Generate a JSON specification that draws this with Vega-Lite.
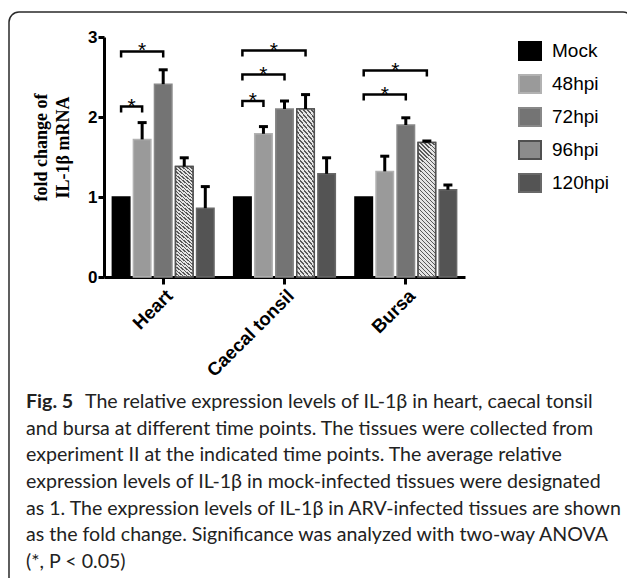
{
  "$schema": "https://vega.github.io/schema/vega-lite/v6.json",
  "width": 624,
  "height": 581,
  "autosize": {"type": "none"},
  "padding": {"left": 9, "top": 12, "right": -6, "bottom": -15},
  "background": "white",
  "config": {
    "view": {"stroke": "#2a2a2a", "strokeWidth": 1.5, "cornerRadius": 10},
    "font": "Liberation Sans"
  },
  "datasets": {
    "bars": [
      {"tissue": "Heart", "time": "Mock", "value": 1.0, "err": null},
      {"tissue": "Heart", "time": "48hpi", "value": 1.72, "err": 1.93},
      {"tissue": "Heart", "time": "72hpi", "value": 2.41, "err": 2.59},
      {"tissue": "Heart", "time": "96hpi", "value": 1.38, "err": 1.49},
      {"tissue": "Heart", "time": "120hpi", "value": 0.86, "err": 1.13},
      {"tissue": "Caecal tonsil", "time": "Mock", "value": 1.0, "err": null},
      {"tissue": "Caecal tonsil", "time": "48hpi", "value": 1.79, "err": 1.88},
      {"tissue": "Caecal tonsil", "time": "72hpi", "value": 2.1, "err": 2.2},
      {"tissue": "Caecal tonsil", "time": "96hpi", "value": 2.1, "err": 2.28},
      {"tissue": "Caecal tonsil", "time": "120hpi", "value": 1.29, "err": 1.49},
      {"tissue": "Bursa", "time": "Mock", "value": 1.0, "err": null},
      {"tissue": "Bursa", "time": "48hpi", "value": 1.32, "err": 1.51},
      {"tissue": "Bursa", "time": "72hpi", "value": 1.9, "err": 1.99},
      {"tissue": "Bursa", "time": "96hpi", "value": 1.68, "err": 1.7},
      {"tissue": "Bursa", "time": "120hpi", "value": 1.09, "err": 1.15}
    ],
    "brackets": [
      {"id": "h48", "tissue": "Heart", "time": "Mock", "seq": 1, "y": 2.055},
      {"id": "h48", "tissue": "Heart", "time": "Mock", "seq": 2, "y": 2.13},
      {"id": "h48", "tissue": "Heart", "time": "48hpi", "seq": 3, "y": 2.13},
      {"id": "h48", "tissue": "Heart", "time": "48hpi", "seq": 4, "y": 2.055},
      {"id": "h72", "tissue": "Heart", "time": "Mock", "seq": 1, "y": 2.745},
      {"id": "h72", "tissue": "Heart", "time": "Mock", "seq": 2, "y": 2.82},
      {"id": "h72", "tissue": "Heart", "time": "72hpi", "seq": 3, "y": 2.82},
      {"id": "h72", "tissue": "Heart", "time": "72hpi", "seq": 4, "y": 2.745},
      {"id": "c48", "tissue": "Caecal tonsil", "time": "Mock", "seq": 1, "y": 2.125},
      {"id": "c48", "tissue": "Caecal tonsil", "time": "Mock", "seq": 2, "y": 2.2},
      {"id": "c48", "tissue": "Caecal tonsil", "time": "48hpi", "seq": 3, "y": 2.2},
      {"id": "c48", "tissue": "Caecal tonsil", "time": "48hpi", "seq": 4, "y": 2.125},
      {"id": "c72", "tissue": "Caecal tonsil", "time": "Mock", "seq": 1, "y": 2.455},
      {"id": "c72", "tissue": "Caecal tonsil", "time": "Mock", "seq": 2, "y": 2.53},
      {"id": "c72", "tissue": "Caecal tonsil", "time": "72hpi", "seq": 3, "y": 2.53},
      {"id": "c72", "tissue": "Caecal tonsil", "time": "72hpi", "seq": 4, "y": 2.455},
      {"id": "c96", "tissue": "Caecal tonsil", "time": "Mock", "seq": 1, "y": 2.755},
      {"id": "c96", "tissue": "Caecal tonsil", "time": "Mock", "seq": 2, "y": 2.83},
      {"id": "c96", "tissue": "Caecal tonsil", "time": "96hpi", "seq": 3, "y": 2.83},
      {"id": "c96", "tissue": "Caecal tonsil", "time": "96hpi", "seq": 4, "y": 2.755},
      {"id": "b72", "tissue": "Bursa", "time": "Mock", "seq": 1, "y": 2.205},
      {"id": "b72", "tissue": "Bursa", "time": "Mock", "seq": 2, "y": 2.28},
      {"id": "b72", "tissue": "Bursa", "time": "72hpi", "seq": 3, "y": 2.28},
      {"id": "b72", "tissue": "Bursa", "time": "72hpi", "seq": 4, "y": 2.205},
      {"id": "b96", "tissue": "Bursa", "time": "Mock", "seq": 1, "y": 2.505},
      {"id": "b96", "tissue": "Bursa", "time": "Mock", "seq": 2, "y": 2.58},
      {"id": "b96", "tissue": "Bursa", "time": "96hpi", "seq": 3, "y": 2.58},
      {"id": "b96", "tissue": "Bursa", "time": "96hpi", "seq": 4, "y": 2.505}
    ],
    "stars": [
      {"tissue": "Heart", "time": "Mock", "half": true, "y": 2.13},
      {"tissue": "Heart", "time": "48hpi", "half": false, "y": 2.82},
      {"tissue": "Caecal tonsil", "time": "Mock", "half": true, "y": 2.2},
      {"tissue": "Caecal tonsil", "time": "48hpi", "half": false, "y": 2.53},
      {"tissue": "Caecal tonsil", "time": "48hpi", "half": true, "y": 2.83},
      {"tissue": "Bursa", "time": "48hpi", "half": false, "y": 2.28},
      {"tissue": "Bursa", "time": "48hpi", "half": true, "y": 2.58}
    ],
    "caption": [
      {"line": 1, "part": "bold", "text": "Fig. 5"},
      {"line": 1, "part": "first", "text": "The relative expression levels of IL-1β in heart, caecal tonsil"},
      {"line": 2, "part": "body", "text": "and bursa at different time points. The tissues were collected from"},
      {"line": 3, "part": "body", "text": "experiment II at the indicated time points. The average relative"},
      {"line": 4, "part": "body", "text": "expression levels of IL-1β in mock-infected tissues were designated"},
      {"line": 5, "part": "body", "text": "as 1. The expression levels of IL-1β in ARV-infected tissues are shown"},
      {"line": 6, "part": "body", "text": "as the fold change. Significance was analyzed with two-way ANOVA"},
      {"line": 7, "part": "body", "text": "(*, P < 0.05)"}
    ]
  },
  "layer": [
    {
      "data": {"name": "bars"},
      "layer": [
        {
          "mark": {"type": "bar", "strokeWidth": 1.5},
          "encoding": {
            "x": {
              "field": "tissue", "type": "nominal",
              "scale": {"domain": ["Heart", "Caecal tonsil", "Bursa"], "range": [95, 456], "paddingInner": 0.134, "paddingOuter": 0.055},
              "axis": {
                "orient": "bottom", "offset": -316, "title": null,
                "domainWidth": 3, "domainColor": "black", "tickWidth": 3, "tickColor": "black", "tickSize": 7,
                "labelAngle": -45, "labelAlign": "right", "labelBaseline": "top", "labelPadding": 2,
                "labelFont": "Liberation Sans", "labelFontWeight": "bold", "labelFontSize": 18.5, "labelColor": "black"
              }
            },
            "xOffset": {
              "field": "time", "type": "nominal",
              "scale": {"domain": ["Mock", "48hpi", "72hpi", "96hpi", "120hpi"], "paddingInner": 0.17, "paddingOuter": 0.08}
            },
            "y": {
              "field": "value", "type": "quantitative",
              "scale": {"domain": [0, 3], "range": [265, 25], "nice": false},
              "axis": {
                "orient": "left", "offset": -95, "values": [0, 1, 2, 3], "format": "d", "grid": false,
                "domainWidth": 3, "domainColor": "black", "tickWidth": 3, "tickColor": "black", "tickSize": 6,
                "labelFont": "Liberation Sans", "labelFontWeight": "bold", "labelFontSize": 17, "labelColor": "black", "labelPadding": 1,
                "title": ["fold change of", "IL-1β mRNA"],
                "titleFont": "Liberation Serif", "titleFontSize": 18, "titleFontWeight": "bold", "titleColor": "black",
                "titleX": -63, "titleY": 135, "titleAngle": -90, "titleAlign": "center", "titleBaseline": "middle", "titleLineHeight": 22
              }
            },
            "color": {
              "field": "time", "type": "nominal",
              "scale": {"domain": ["Mock", "48hpi", "72hpi", "96hpi", "120hpi"], "range": ["#000000", "#9a9a9a", "#747474", "#8c8c8c", "#545454"]},
              "legend": {
                "orient": "none", "legendX": 509, "legendY": 27, "title": null, "padding": 0,
                "symbolType": "M-1,-0.818H1V0.818H-1Z", "symbolSize": 484, "symbolStrokeWidth": 2,
                "labelFont": "Liberation Sans", "labelFontSize": 19, "labelColor": "black", "labelOffset": 10, "rowPadding": 7
              }
            },
            "stroke": {
              "field": "time", "type": "nominal",
              "scale": {"domain": ["Mock", "48hpi", "72hpi", "96hpi", "120hpi"], "range": ["#000000", "#b2b2b2", "#888888", "#505050", "#686868"]}
            }
          }
        },
        {
          "transform": [{"filter": "datum.time === '96hpi'"}],
          "mark": {
            "type": "bar", "stroke": "#505050", "strokeWidth": 1.5,
            "fill": {"gradient": "linear", "x1": 0, "y1": 1, "x2": 0.144, "y2": -0.111, "stops": [
              {"offset": 0, "color": "#585858"}, {"offset": 0.0105, "color": "#585858"}, {"offset": 0.0105, "color": "#e4e4e4"}, {"offset": 0.0263, "color": "#e4e4e4"},
              {"offset": 0.0263, "color": "#585858"}, {"offset": 0.0368, "color": "#585858"}, {"offset": 0.0368, "color": "#e4e4e4"}, {"offset": 0.0526, "color": "#e4e4e4"},
              {"offset": 0.0526, "color": "#585858"}, {"offset": 0.0632, "color": "#585858"}, {"offset": 0.0632, "color": "#e4e4e4"}, {"offset": 0.0789, "color": "#e4e4e4"},
              {"offset": 0.0789, "color": "#585858"}, {"offset": 0.0895, "color": "#585858"}, {"offset": 0.0895, "color": "#e4e4e4"}, {"offset": 0.1053, "color": "#e4e4e4"},
              {"offset": 0.1053, "color": "#585858"}, {"offset": 0.1158, "color": "#585858"}, {"offset": 0.1158, "color": "#e4e4e4"}, {"offset": 0.1316, "color": "#e4e4e4"},
              {"offset": 0.1316, "color": "#585858"}, {"offset": 0.1421, "color": "#585858"}, {"offset": 0.1421, "color": "#e4e4e4"}, {"offset": 0.1579, "color": "#e4e4e4"},
              {"offset": 0.1579, "color": "#585858"}, {"offset": 0.1684, "color": "#585858"}, {"offset": 0.1684, "color": "#e4e4e4"}, {"offset": 0.1842, "color": "#e4e4e4"},
              {"offset": 0.1842, "color": "#585858"}, {"offset": 0.1947, "color": "#585858"}, {"offset": 0.1947, "color": "#e4e4e4"}, {"offset": 0.2105, "color": "#e4e4e4"},
              {"offset": 0.2105, "color": "#585858"}, {"offset": 0.2211, "color": "#585858"}, {"offset": 0.2211, "color": "#e4e4e4"}, {"offset": 0.2368, "color": "#e4e4e4"},
              {"offset": 0.2368, "color": "#585858"}, {"offset": 0.2474, "color": "#585858"}, {"offset": 0.2474, "color": "#e4e4e4"}, {"offset": 0.2632, "color": "#e4e4e4"},
              {"offset": 0.2632, "color": "#585858"}, {"offset": 0.2737, "color": "#585858"}, {"offset": 0.2737, "color": "#e4e4e4"}, {"offset": 0.2895, "color": "#e4e4e4"},
              {"offset": 0.2895, "color": "#585858"}, {"offset": 0.3, "color": "#585858"}, {"offset": 0.3, "color": "#e4e4e4"}, {"offset": 0.3158, "color": "#e4e4e4"},
              {"offset": 0.3158, "color": "#585858"}, {"offset": 0.3263, "color": "#585858"}, {"offset": 0.3263, "color": "#e4e4e4"}, {"offset": 0.3421, "color": "#e4e4e4"},
              {"offset": 0.3421, "color": "#585858"}, {"offset": 0.3526, "color": "#585858"}, {"offset": 0.3526, "color": "#e4e4e4"}, {"offset": 0.3684, "color": "#e4e4e4"},
              {"offset": 0.3684, "color": "#585858"}, {"offset": 0.3789, "color": "#585858"}, {"offset": 0.3789, "color": "#e4e4e4"}, {"offset": 0.3947, "color": "#e4e4e4"},
              {"offset": 0.3947, "color": "#585858"}, {"offset": 0.4053, "color": "#585858"}, {"offset": 0.4053, "color": "#e4e4e4"}, {"offset": 0.4211, "color": "#e4e4e4"},
              {"offset": 0.4211, "color": "#585858"}, {"offset": 0.4316, "color": "#585858"}, {"offset": 0.4316, "color": "#e4e4e4"}, {"offset": 0.4474, "color": "#e4e4e4"},
              {"offset": 0.4474, "color": "#585858"}, {"offset": 0.4579, "color": "#585858"}, {"offset": 0.4579, "color": "#e4e4e4"}, {"offset": 0.4737, "color": "#e4e4e4"},
              {"offset": 0.4737, "color": "#585858"}, {"offset": 0.4842, "color": "#585858"}, {"offset": 0.4842, "color": "#e4e4e4"}, {"offset": 0.5, "color": "#e4e4e4"},
              {"offset": 0.5, "color": "#585858"}, {"offset": 0.5105, "color": "#585858"}, {"offset": 0.5105, "color": "#e4e4e4"}, {"offset": 0.5263, "color": "#e4e4e4"},
              {"offset": 0.5263, "color": "#585858"}, {"offset": 0.5368, "color": "#585858"}, {"offset": 0.5368, "color": "#e4e4e4"}, {"offset": 0.5526, "color": "#e4e4e4"},
              {"offset": 0.5526, "color": "#585858"}, {"offset": 0.5632, "color": "#585858"}, {"offset": 0.5632, "color": "#e4e4e4"}, {"offset": 0.5789, "color": "#e4e4e4"},
              {"offset": 0.5789, "color": "#585858"}, {"offset": 0.5895, "color": "#585858"}, {"offset": 0.5895, "color": "#e4e4e4"}, {"offset": 0.6053, "color": "#e4e4e4"},
              {"offset": 0.6053, "color": "#585858"}, {"offset": 0.6158, "color": "#585858"}, {"offset": 0.6158, "color": "#e4e4e4"}, {"offset": 0.6316, "color": "#e4e4e4"},
              {"offset": 0.6316, "color": "#585858"}, {"offset": 0.6421, "color": "#585858"}, {"offset": 0.6421, "color": "#e4e4e4"}, {"offset": 0.6579, "color": "#e4e4e4"},
              {"offset": 0.6579, "color": "#585858"}, {"offset": 0.6684, "color": "#585858"}, {"offset": 0.6684, "color": "#e4e4e4"}, {"offset": 0.6842, "color": "#e4e4e4"},
              {"offset": 0.6842, "color": "#585858"}, {"offset": 0.6947, "color": "#585858"}, {"offset": 0.6947, "color": "#e4e4e4"}, {"offset": 0.7105, "color": "#e4e4e4"},
              {"offset": 0.7105, "color": "#585858"}, {"offset": 0.7211, "color": "#585858"}, {"offset": 0.7211, "color": "#e4e4e4"}, {"offset": 0.7368, "color": "#e4e4e4"},
              {"offset": 0.7368, "color": "#585858"}, {"offset": 0.7474, "color": "#585858"}, {"offset": 0.7474, "color": "#e4e4e4"}, {"offset": 0.7632, "color": "#e4e4e4"},
              {"offset": 0.7632, "color": "#585858"}, {"offset": 0.7737, "color": "#585858"}, {"offset": 0.7737, "color": "#e4e4e4"}, {"offset": 0.7895, "color": "#e4e4e4"},
              {"offset": 0.7895, "color": "#585858"}, {"offset": 0.8, "color": "#585858"}, {"offset": 0.8, "color": "#e4e4e4"}, {"offset": 0.8158, "color": "#e4e4e4"},
              {"offset": 0.8158, "color": "#585858"}, {"offset": 0.8263, "color": "#585858"}, {"offset": 0.8263, "color": "#e4e4e4"}, {"offset": 0.8421, "color": "#e4e4e4"},
              {"offset": 0.8421, "color": "#585858"}, {"offset": 0.8526, "color": "#585858"}, {"offset": 0.8526, "color": "#e4e4e4"}, {"offset": 0.8684, "color": "#e4e4e4"},
              {"offset": 0.8684, "color": "#585858"}, {"offset": 0.8789, "color": "#585858"}, {"offset": 0.8789, "color": "#e4e4e4"}, {"offset": 0.8947, "color": "#e4e4e4"},
              {"offset": 0.8947, "color": "#585858"}, {"offset": 0.9053, "color": "#585858"}, {"offset": 0.9053, "color": "#e4e4e4"}, {"offset": 0.9211, "color": "#e4e4e4"},
              {"offset": 0.9211, "color": "#585858"}, {"offset": 0.9316, "color": "#585858"}, {"offset": 0.9316, "color": "#e4e4e4"}, {"offset": 0.9474, "color": "#e4e4e4"},
              {"offset": 0.9474, "color": "#585858"}, {"offset": 0.9579, "color": "#585858"}, {"offset": 0.9579, "color": "#e4e4e4"}, {"offset": 0.9737, "color": "#e4e4e4"},
              {"offset": 0.9737, "color": "#585858"}, {"offset": 0.9842, "color": "#585858"}, {"offset": 0.9842, "color": "#e4e4e4"}, {"offset": 1, "color": "#e4e4e4"}
            ]}
          },
          "encoding": {
            "x": {"field": "tissue", "type": "nominal"},
            "xOffset": {"field": "time", "type": "nominal"},
            "y": {"field": "value", "type": "quantitative"}
          }
        },
        {
          "transform": [{"filter": "datum.err != null"}],
          "mark": {"type": "rule", "strokeWidth": 3, "color": "black"},
          "encoding": {
            "x": {"field": "tissue", "type": "nominal"},
            "xOffset": {"field": "time", "type": "nominal"},
            "y": {"field": "value", "type": "quantitative"},
            "y2": {"field": "err"}
          }
        },
        {
          "transform": [{"filter": "datum.err != null"}],
          "mark": {"type": "tick", "orient": "horizontal", "thickness": 3, "size": 9, "color": "black", "opacity": 1},
          "encoding": {
            "x": {"field": "tissue", "type": "nominal"},
            "xOffset": {"field": "time", "type": "nominal"},
            "y": {"field": "err", "type": "quantitative"}
          }
        },
        {
          "data": {"name": "brackets"},
          "mark": {"type": "line", "color": "black", "strokeWidth": 2.5, "strokeJoin": "miter"},
          "encoding": {
            "x": {"field": "tissue", "type": "nominal"},
            "xOffset": {"field": "time", "type": "nominal"},
            "y": {"field": "y", "type": "quantitative"},
            "detail": {"field": "id"},
            "order": {"field": "seq", "type": "quantitative"}
          }
        },
        {
          "data": {"name": "stars"},
          "transform": [{"filter": "!datum.half"}],
          "mark": {"type": "text", "text": "*", "font": "Liberation Sans", "fontSize": 21, "baseline": "alphabetic", "dy": 6, "color": "black"},
          "encoding": {
            "x": {"field": "tissue", "type": "nominal"},
            "xOffset": {"field": "time", "type": "nominal"},
            "y": {"field": "y", "type": "quantitative"}
          }
        },
        {
          "data": {"name": "stars"},
          "transform": [{"filter": "datum.half"}],
          "mark": {"type": "text", "text": "*", "font": "Liberation Sans", "fontSize": 21, "baseline": "alphabetic", "dy": 6, "dx": 10.5, "color": "black"},
          "encoding": {
            "x": {"field": "tissue", "type": "nominal"},
            "xOffset": {"field": "time", "type": "nominal"},
            "y": {"field": "y", "type": "quantitative"}
          }
        }
      ]
    },
    {
      "data": {"name": "caption"},
      "layer": [
        {
          "transform": [{"filter": "datum.part === 'bold'"}],
          "mark": {"type": "text", "font": "Lato", "fontSize": 19.6, "fontWeight": "bold", "align": "left", "baseline": "alphabetic", "color": "#222222"},
          "encoding": {
            "x": {"datum": 0, "type": "quantitative", "scale": {"domain": [0, 1], "range": [17, 617]}, "axis": null},
            "y": {"field": "line", "type": "quantitative", "scale": {"domain": [1, 7], "range": [396, 556]}, "axis": null},
            "text": {"field": "text"}
          }
        },
        {
          "transform": [{"filter": "datum.part === 'first'"}],
          "mark": {"type": "text", "font": "Lato", "fontSize": 19.6, "align": "left", "baseline": "alphabetic", "dx": 59, "color": "#222222"},
          "encoding": {
            "x": {"datum": 0, "type": "quantitative"},
            "y": {"field": "line", "type": "quantitative"},
            "text": {"field": "text"}
          }
        },
        {
          "transform": [{"filter": "datum.part === 'body'"}],
          "mark": {"type": "text", "font": "Lato", "fontSize": 19.6, "align": "left", "baseline": "alphabetic", "color": "#222222"},
          "encoding": {
            "x": {"datum": 0, "type": "quantitative"},
            "y": {"field": "line", "type": "quantitative"},
            "text": {"field": "text"}
          }
        }
      ]
    }
  ],
  "resolve": {"scale": {"x": "independent", "y": "independent"}}
}
